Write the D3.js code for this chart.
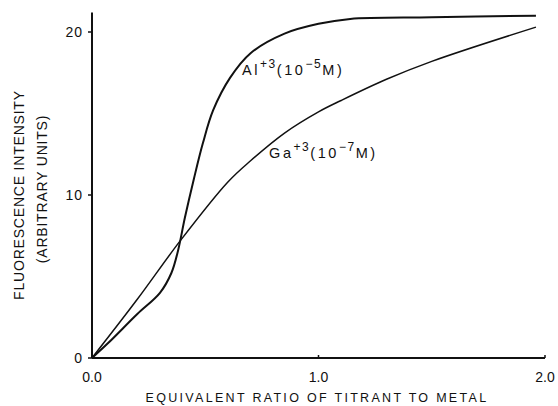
<!DOCTYPE html>
<html>
<head>
<meta charset="utf-8">
<script src="https://cdn.jsdelivr.net/npm/d3@7"></script>
<style>
  body { margin: 0; background: #fff; }
  text { font-family: "Liberation Sans", Arial, sans-serif; fill: #111; }
  .curve { fill: none; stroke: #111; }
</style>
</head>
<body>
<svg width="558" height="406"></svg>
<script>
// values
var alRatio = [0, 0.07, 0.2, 0.3, 0.35, 0.38, 0.41, 0.45, 0.49, 0.535, 0.61, 0.7, 0.85, 1.0, 1.14, 1.5, 1.96];
var alIntensity = [0, 0.9, 2.7, 4.0, 5.2, 6.6, 8.6, 11.0, 13.2, 15.2, 17.2, 18.7, 19.9, 20.5, 20.8, 20.9, 21.0];
var gaRatio = [0, 0.2, 0.39, 0.6, 0.7, 0.85, 1.0, 1.1, 1.3, 1.5, 1.96];
var gaIntensity = [0, 3.6, 7.2, 10.8, 12.1, 13.8, 15.1, 15.8, 17.1, 18.2, 20.3];
var xTicks = [0, 1, 2];
var xTickLabels = ["0.0", "1.0", "2.0"];
var yTicks = [0, 10, 20];
var yTickLabels = ["0", "10", "20"];

var svg = d3.select("svg");
var x = d3.scaleLinear().domain([0, 2]).range([92, 545]);
var y = d3.scaleLinear().domain([0, 20]).range([358, 32]);

var line = d3.line()
    .x(function(d) { return x(d[0]); })
    .y(function(d) { return y(d[1]); })
    .curve(d3.curveCatmullRom.alpha(0.5));

// axes
svg.append("line")
    .attr("x1", x(0)).attr("x2", x(0))
    .attr("y1", y(0)).attr("y2", y(21.2))
    .attr("stroke", "#111").attr("stroke-width", 2);
svg.append("line")
    .attr("x1", x(0)).attr("x2", x(2))
    .attr("y1", y(0)).attr("y2", y(0))
    .attr("stroke", "#111").attr("stroke-width", 2);

// y ticks
yTicks.forEach(function(t, i) {
  svg.append("line")
      .attr("x1", x(0) - 4).attr("x2", x(0))
      .attr("y1", y(t)).attr("y2", y(t))
      .attr("stroke", "#111").attr("stroke-width", 1.5);
  svg.append("text")
      .attr("x", x(0) - 9).attr("y", y(t) + 5)
      .attr("text-anchor", "end")
      .style("font-size", "14px")
      .style("letter-spacing", "1px")
      .text(yTickLabels[i]);
});

// x ticks
xTicks.forEach(function(t, i) {
  svg.append("line")
      .attr("x1", x(t)).attr("x2", x(t))
      .attr("y1", y(0) - 3).attr("y2", y(0))
      .attr("stroke", "#111").attr("stroke-width", 1.5);
  svg.append("text")
      .attr("x", x(t)).attr("y", y(0) + 24)
      .attr("text-anchor", "middle")
      .style("font-size", "14px")
      .text(xTickLabels[i]);
});

// axis titles
svg.append("text")
    .attr("x", 317).attr("y", 402)
    .attr("text-anchor", "middle")
    .style("font-size", "12.5px")
    .style("letter-spacing", "2.3px")
    .text("EQUIVALENT RATIO OF TITRANT TO METAL");

svg.append("text")
    .attr("transform", "translate(24,195) rotate(-90)")
    .attr("text-anchor", "middle")
    .style("font-size", "14px")
    .style("letter-spacing", "0.8px")
    .text("FLUORESCENCE  INTENSITY");
svg.append("text")
    .attr("transform", "translate(47,189) rotate(-90)")
    .attr("text-anchor", "middle")
    .style("font-size", "14px")
    .style("letter-spacing", "0.8px")
    .text("(ARBITRARY UNITS)");

// curves
svg.append("path")
    .attr("class", "curve")
    .attr("stroke-width", 2)
    .attr("d", line(d3.zip(alRatio, alIntensity)));
svg.append("path")
    .attr("class", "curve")
    .attr("stroke-width", 1.5)
    .attr("d", line(d3.zip(gaRatio, gaIntensity)));

// curve labels
function label(xp, yp, base, exp, conc) {
  var t = svg.append("text")
      .attr("x", xp).attr("y", yp)
      .style("font-size", "14.5px")
      .style("letter-spacing", "2.6px");
  t.append("tspan").text(base);
  t.append("tspan").attr("dy", -7).style("font-size", "12px").style("letter-spacing", "1.5px").text(exp);
  t.append("tspan").attr("dy", 7).text("(10");
  t.append("tspan").attr("dy", -7).style("font-size", "12px").style("letter-spacing", "1.5px").text(conc);
  t.append("tspan").attr("dy", 7).text("M)");
}
label(242, 75, "Al", "+3", "\u22125");
label(269, 158, "Ga", "+3", "\u22127");
</script>
</body>
</html>
